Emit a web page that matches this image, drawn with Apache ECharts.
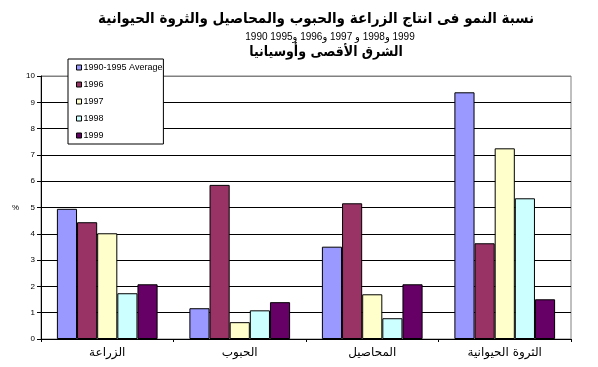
<!DOCTYPE html>
<html><head><meta charset="utf-8">
<script src="https://cdn.jsdelivr.net/npm/echarts@6/dist/echarts.min.js"></script>
<style>html,body{margin:0;padding:0;background:#fff}#c{width:598px;height:367px}</style>
</head><body><div id="c"></div>
<script>
const categories = ['الزراعة', 'الحبوب', 'المحاصيل', 'الثروة الحيوانية'];
const seriesNames = ['1990-1995 Average', '1996', '1997', '1998', '1999'];
const avg9095 = [4.95, 1.17, 3.51, 9.38];
const y1996 = [4.44, 5.86, 5.16, 3.64];
const y1997 = [4.02, 0.64, 1.70, 7.25];
const y1998 = [1.74, 1.09, 0.79, 5.35];
const y1999 = [2.08, 1.40, 2.08, 1.51];
const yTicks = [0, 1, 2, 3, 4, 5, 6, 7, 8, 9, 10];
const titleLine1 = 'نسبة النمو فى انتاج الزراعة والحبوب والمحاصيل والثروة الحيوانية';
const titleLine2 = '1990 1995و\u200E 1996و\u200E 1997 و\u200E 1998و\u200E 1999';
const titleLine3 = 'الشرق الأقصى وأوسيانيا';
const yName = '%';

const values = [avg9095, y1996, y1997, y1998, y1999];
const colors = ['#9999FF', '#993366', '#FFFFCC', '#CCFFFF', '#660066'];
const splitColors = yTicks.map((t, i) => (i === 0 || i === yTicks.length - 1) ? '#808080' : '#000000');

const chart = echarts.init(document.getElementById('c'), null, {renderer: 'canvas'});
chart.setOption({
  animation: false,
  backgroundColor: '#ffffff',
  grid: {left: 41, right: 27, top: 76, bottom: 28, show: true, borderColor: '#808080', borderWidth: 1, backgroundColor: 'transparent'},
  legend: {
    orient: 'vertical', left: 68, top: 59,
    data: seriesNames,
    backgroundColor: '#ffffff', borderColor: '#000000', borderWidth: 1,
    padding: [3, 1, 3, 8],
    itemWidth: 5, itemHeight: 5, itemGap: 6,
    icon: 'rect',
    textStyle: {fontFamily: 'Liberation Sans, Arial', fontSize: 9, color: '#000', lineHeight: 11, padding: [0, 0, 0, -3]},
    itemStyle: {borderColor: '#000', borderWidth: 1}
  },
  xAxis: {
    type: 'category', data: categories,
    axisLine: {show: true, lineStyle: {color: '#000', width: 1}},
    axisTick: {show: true, length: 3, lineStyle: {color: '#000'}},
    axisLabel: {fontFamily: 'DejaVu Sans', fontSize: 12, color: '#000', margin: 8},
    splitLine: {show: false}
  },
  yAxis: {
    type: 'value', min: 0, max: 10, interval: 1,
    name: yName, nameLocation: 'middle', nameGap: 22, nameRotate: 0,
    nameTextStyle: {fontFamily: 'Liberation Sans, Arial', fontSize: 8, color: '#000'},
    axisLine: {show: true, lineStyle: {color: '#000', width: 1}},
    axisTick: {show: true, length: 4, lineStyle: {color: '#000'}},
    axisLabel: {fontFamily: 'Liberation Sans, Arial', fontSize: 8, color: '#000', margin: 6},
    splitLine: {show: true, lineStyle: {color: splitColors, width: 1}}
  },
  series: seriesNames.map((n, i) => ({
    name: n, type: 'bar', data: values[i],
    barGap: '0%', barCategoryGap: '24%',
    itemStyle: {color: colors[i], borderColor: '#000', borderWidth: 1}
  })),
  graphic: [
    {type: 'text', style: {x: 316, y: 19, align: 'center', verticalAlign: 'middle', text: titleLine1, font: 'bold 15px "DejaVu Sans Condensed"', fill: '#000'}},
    {type: 'text', style: {x: 330, y: 37, align: 'center', verticalAlign: 'middle', text: titleLine2, font: '10px "Liberation Sans", "DejaVu Sans"', fill: '#000'}},
    {type: 'text', style: {x: 326, y: 52, align: 'center', verticalAlign: 'middle', text: titleLine3, font: 'bold 14px "DejaVu Sans Condensed"', fill: '#000'}}
  ]
});
</script></body></html>
